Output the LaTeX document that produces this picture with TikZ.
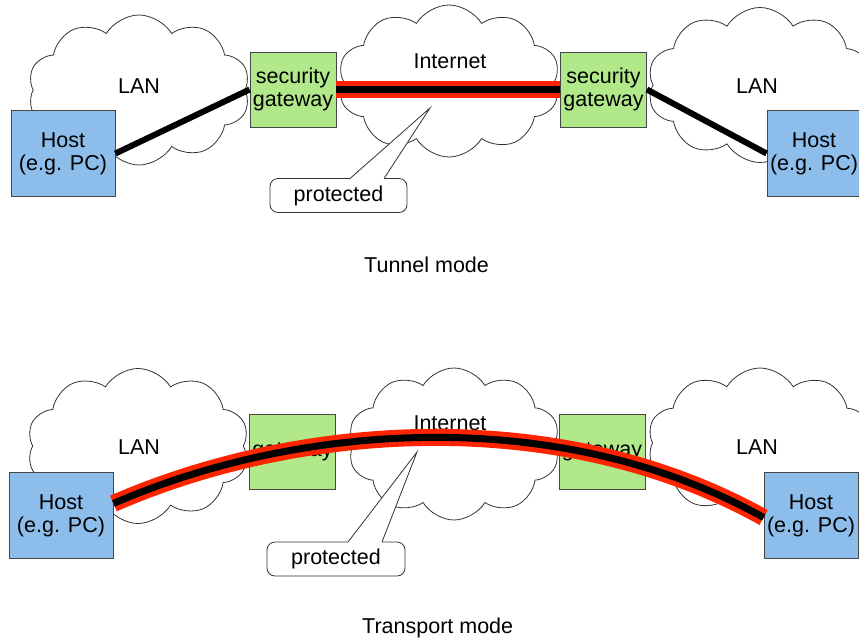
\documentclass[tikz,border=0pt]{standalone}
\usepackage{fontspec}
\setmainfont{Liberation Sans}
\usetikzlibrary{shapes.symbols}
\definecolor{hostblue}{RGB}{141,190,235}
\definecolor{gwgreen}{RGB}{176,232,138}
\definecolor{tunnelred}{RGB}{255,36,0}
\definecolor{edgegray}{RGB}{70,70,70}

\begin{document}
\begin{tikzpicture}[x=1pt,y=-1pt,
  every node/.style={font=\fontsize{21.5}{23}\selectfont, text=black},
  netcloud/.style={cloud, cloud puffs=10, cloud puff arc=118, draw=black!80,
    line width=0.8, fill=white, inner sep=0},
  hostbox/.style={rectangle, draw=edgegray, fill=hostblue, line width=0.8,
    minimum width=104, minimum height=86, align=center, inner sep=0},
  gwbox/.style={rectangle, draw=edgegray, fill=gwgreen, line width=0.8,
    minimum width=86, minimum height=75, align=center, inner sep=0},
  label/.style={anchor=base, inner sep=0},
  lanlink/.style={draw=black, line width=6},
  tunnel/.style={draw=black, line width=7, preaction={draw=tunnelred, line width=17}},
  notebox/.style={rectangle, rounded corners=8, draw=black!80, fill=white,
    line width=0.8, minimum width=137, minimum height=34, inner sep=0},
  notewedge/.style={draw=black!80, line width=0.8}
]
\clip (0,0) rectangle (859,637);

% ---------- Tunnel mode ----------
\node[netcloud, minimum width=222, minimum height=150] (lanA) at (139,90) {};
\node[netcloud, minimum width=222, minimum height=152] (netA) at (449,81) {};
\node[netcloud, minimum width=225, minimum height=155] (lanB) at (760,85) {};

\node[label] (lanAtxt) at (139,93) {LAN};
\node[label] (lanBtxt) at (757,93) {LAN};
\node[label] (netAtxt) at (450,68) {Internet};

\node[gwbox] (gwA) at (293,89.5) {security\\gateway};
\node[gwbox] (gwB) at (603.5,89.5) {security\\gateway};
\node[hostbox] (hostA) at (63,153.5) {Host\\(e.g. PC)};
\node[hostbox, minimum width=94] (hostB) at (814,153.5) {Host\\(e.g. PC)};

\path[lanlink] (hostA.east) -- (gwA.west);
\path[lanlink] (gwB.east) -- (hostB.west);
\path[tunnel] (gwA.east) -- (gwB.west);

% callout
\node[notebox] (noteA) at (338.5,195.5) {protected};
\coordinate (tipA) at (430,108);
\coordinate (baseA1) at (350,178.5);
\coordinate (baseA2) at (384,178.5);
\fill[white] (baseA1) -- (tipA) -- (baseA2) -- ([yshift=-1.5pt]baseA2) -- ([yshift=-1.5pt]baseA1) -- cycle;
\path[notewedge] (baseA1) -- (tipA) -- (baseA2);

\node[anchor=base west, inner sep=0] (capA) at (364,272) {Tunnel mode};

% ---------- Transport mode ----------
\node[netcloud, minimum width=222, minimum height=155] (lanC) at (138,446) {};
\node[netcloud, minimum width=212, minimum height=152] (netC) at (454,444) {};
\node[netcloud, minimum width=225, minimum height=150] (lanD) at (760,443) {};

\node[label] (lanCtxt) at (139,454) {LAN};
\node[label] (lanDtxt) at (757,454) {LAN};
\node[label] (netCtxt) at (450,430) {Internet};

\node[gwbox] (gwC) at (292.5,451.5) {\raisebox{-3pt}{gateway}};
\node[gwbox] (gwD) at (602,451.5) {\raisebox{-3pt}{gateway}};
\node[hostbox] (hostC) at (61,515.5) {Host\\(e.g. PC)};
\node[hostbox, minimum width=94] (hostD) at (811,515.5) {Host\\(e.g. PC)};

\path[tunnel] ([yshift=12pt]hostC.east) .. controls (300,422) and (560,404) .. ([yshift=-2pt]hostD.west);

% callout
\node[notebox, minimum width=138] (noteC) at (336,559) {protected};
\coordinate (tipC) at (417,452);
\coordinate (baseC1) at (348,542);
\coordinate (baseC2) at (382,542);
\fill[white] (baseC1) -- (tipC) -- (baseC2) -- ([yshift=-1.5pt]baseC2) -- ([yshift=-1.5pt]baseC1) -- cycle;
\path[notewedge] (baseC1) -- (tipC) -- (baseC2);

\node[anchor=base west, inner sep=0] (capC) at (362,633) {Transport mode};
\end{tikzpicture}
\end{document}
